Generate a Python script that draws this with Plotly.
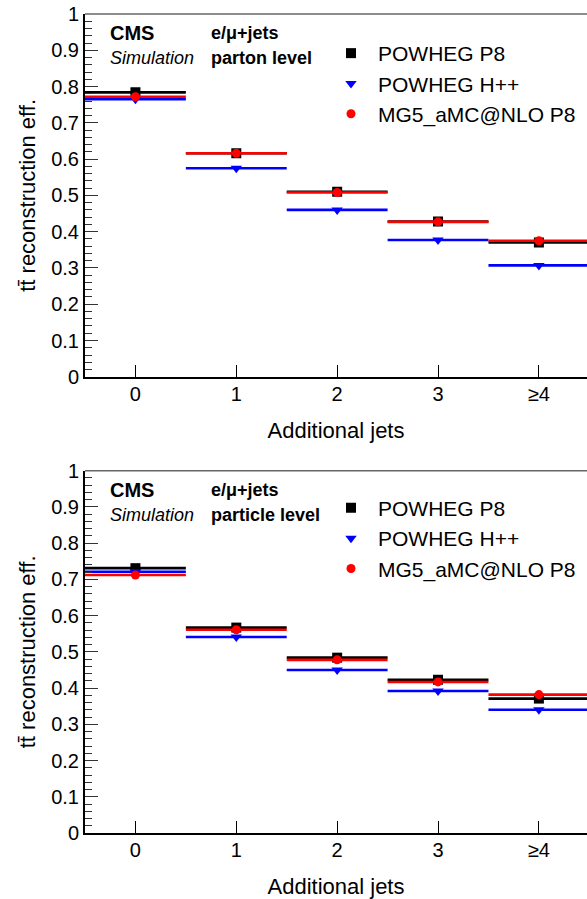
import plotly.graph_objects as go

# ---- data ----
categories = [0, 1, 2, 3, 4]
tick_labels = ["0", "1", "2", "3", "≥4"]
half_width = [0.5, 0.5, 0.5, 0.5, 0.5]

series_names = ["POWHEG P8", "POWHEG H++", "MG5_aMC@NLO P8"]

parton_powheg_p8 = [0.784, 0.616, 0.510, 0.428, 0.370]
parton_powheg_hpp = [0.765, 0.575, 0.460, 0.377, 0.307]
parton_mg5 = [0.772, 0.616, 0.508, 0.427, 0.375]

particle_powheg_p8 = [0.731, 0.567, 0.484, 0.423, 0.371]
particle_powheg_hpp = [0.721, 0.541, 0.450, 0.392, 0.340]
particle_mg5 = [0.712, 0.561, 0.478, 0.417, 0.382]

colors = ["black", "#0000ff", "#ff0000"]
symbols = ["square", "triangle-down", "circle"]
msizes = [10, 10, 9]

FONT = "Liberation Sans, Arial, Helvetica, sans-serif"

W, H = 587, 899
ML, MR, MT = 85, 0, 14
Y0_BOT = 833.5
MB = H - Y0_BOT
plot_h = H - MT - MB
PW = W - ML

def py(page_y):
    return (Y0_BOT - page_y) / plot_h

top_dom = [py(377), 1.0]
bot_dom = [0.0, py(471)]

fig = go.Figure()

panels = [
    ("x", "y", "legend", [parton_powheg_p8, parton_powheg_hpp, parton_mg5]),
    ("x2", "y2", "legend2", [particle_powheg_p8, particle_powheg_hpp, particle_mg5]),
]

for xa, ya, lg, vals in panels:
    for i, v in enumerate(vals):
        fig.add_trace(go.Scatter(
            x=categories, y=v, mode="markers", name=series_names[i],
            xaxis=xa, yaxis=ya, legend=lg,
            marker=dict(symbol=symbols[i], size=msizes[i], color=colors[i],
                        line=dict(width=0)),
            error_x=dict(type="data", array=half_width, width=0,
                         thickness=2.6, color=colors[i]),
            showlegend=True,
        ))

def xaxis_common(standoff):
    return dict(
        range=[-0.5, 4.477], tickmode="array", tickvals=categories, ticktext=tick_labels,
        ticks="inside", ticklen=12, tickwidth=1, tickcolor="black",
        showline=True, linecolor="black", linewidth=2, showgrid=False, zeroline=False,
        tickfont=dict(family=FONT, size=20, color="black"),
        ticklabelstandoff=-2,
        title=dict(text="Additional jets", font=dict(family=FONT, size=22, color="black"),
                   standoff=standoff),
    )

yaxis_common = dict(
    range=[0, 1], dtick=0.1, tickformat="~g",
    ticks="inside", ticklen=13, tickwidth=1, tickcolor="#333",
    minor=dict(dtick=0.02, ticks="inside", ticklen=7, tickwidth=1, tickcolor="#333", showgrid=False),
    showline=True, linecolor="black", linewidth=2, showgrid=False, zeroline=False,
    tickfont=dict(family=FONT, size=20, color="black"),
    title=dict(text="tt̄ reconstruction eff.", font=dict(family=FONT, size=22, color="black"), standoff=9),
)

fig.update_layout(
    width=W, height=H,
    margin=dict(l=ML, r=MR, t=MT, b=MB, pad=0),
    paper_bgcolor="white", plot_bgcolor="white",
    xaxis=dict(xaxis_common(19), anchor="y"),
    yaxis=dict(yaxis_common, domain=top_dom, anchor="x"),
    xaxis2=dict(xaxis_common(23), anchor="y2"),
    yaxis2=dict(yaxis_common, domain=bot_dom, anchor="x2"),
    legend=dict(x=(344 - 20 - 85) / PW, y=py(33), xanchor="left", yanchor="top",
                bgcolor="rgba(0,0,0,0)", itemwidth=44,
                font=dict(family=FONT, size=21, color="black")),
    legend2=dict(x=(344 - 20 - 85) / PW, y=py(488), xanchor="left", yanchor="top",
                 bgcolor="rgba(0,0,0,0)", itemwidth=44,
                 font=dict(family=FONT, size=21, color="black")),
)

# top frame lines (gray)
for xa, ya in [("x", "y"), ("x2", "y2")]:
    fig.add_shape(type="line", xref=f"{xa} domain", yref=f"{ya} domain",
                  x0=0, x1=1, y0=1, y1=1, line=dict(color="#666", width=1.5))

# panel labels
labels = [("y", "parton level"), ("y2", "particle level")]
for ya, lev in labels:
    xa = "x" if ya == "y" else "x2"
    fig.add_annotation(xref=f"{xa} domain", yref=f"{ya} domain", x=(108 - 85) / PW, y=0.948,
                       text="<b>CMS</b>", showarrow=False, xanchor="left", yanchor="middle",
                       font=dict(family=FONT, size=20, color="black"))
    fig.add_annotation(xref=f"{xa} domain", yref=f"{ya} domain", x=(108 - 85) / PW, y=0.879,
                       text="<i>Simulation</i>", showarrow=False, xanchor="left", yanchor="middle",
                       font=dict(family=FONT, size=18, color="black"))
    fig.add_annotation(xref=f"{xa} domain", yref=f"{ya} domain", x=(209 - 85) / PW, y=0.948,
                       text="<b>e/μ+jets</b>", showarrow=False, xanchor="left", yanchor="middle",
                       font=dict(family=FONT, size=18, color="black"))
    fig.add_annotation(xref=f"{xa} domain", yref=f"{ya} domain", x=(209 - 85) / PW, y=0.879,
                       text=f"<b>{lev}</b>", showarrow=False, xanchor="left", yanchor="middle",
                       font=dict(family=FONT, size=18, color="black"))

fig.write_html("out.html", config={"displayModeBar": False},
               post_script="document.body.style.margin='0';document.body.style.padding='0';"
                           "document.documentElement.style.overflow='hidden';")
